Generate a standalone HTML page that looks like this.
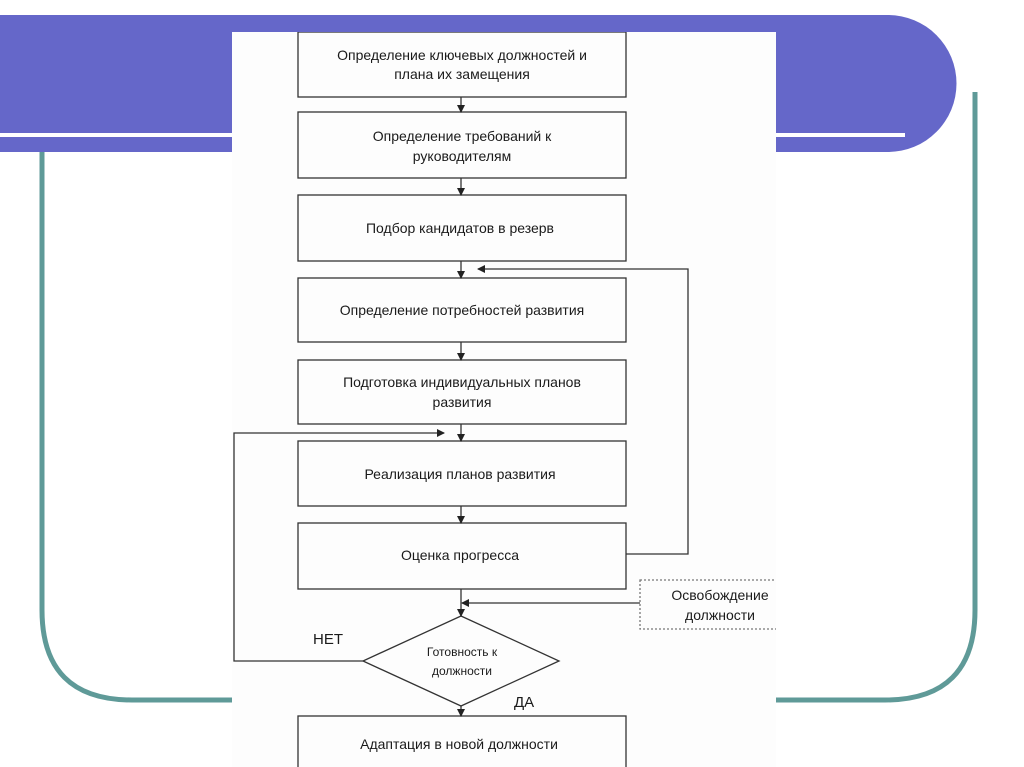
<!DOCTYPE html>
<html><head><meta charset="utf-8"><style>
html,body{margin:0;padding:0;background:#fff;}
svg{display:block;}
text{font-family:"Liberation Sans","DejaVu Sans",sans-serif;fill:#1a1a1a;}
</style></head><body>
<svg width="1024" height="767" viewBox="0 0 1024 767" xmlns="http://www.w3.org/2000/svg">
<defs>
<marker id="a" markerWidth="8" markerHeight="8" refX="7" refY="4" orient="auto" markerUnits="userSpaceOnUse">
<path d="M0,0 L8,4 L0,8 z" fill="#222"/></marker>
<clipPath id="c"><rect x="232" y="32" width="544" height="735"/></clipPath>
</defs>
<rect width="1024" height="767" fill="#fff"/>
<path d="M42,150 L42,610 Q42,700 132,700 L885,700 Q975,700 975,610 L975,92" fill="none" stroke="#5f9a98" stroke-width="5"/>
<path d="M0,15 L888,15 A68,68 0 0 1 888,152 L0,152 Z" fill="#6567c9"/>
<rect x="0" y="133" width="905" height="4" fill="#fff"/>
<rect x="232" y="32" width="544" height="735" fill="#fdfdfd"/>
<g clip-path="url(#c)">
<g fill="none" stroke="#333" stroke-width="1.3">
<rect x="298" y="32" width="328" height="65"/>
<rect x="298" y="112" width="328" height="66"/>
<rect x="298" y="195" width="328" height="66"/>
<rect x="298" y="278" width="328" height="64"/>
<rect x="298" y="360" width="328" height="64"/>
<rect x="298" y="441" width="328" height="65"/>
<rect x="298" y="523" width="328" height="66"/>
<rect x="298" y="716" width="328" height="60"/>
<rect x="640" y="580" width="150" height="49" stroke-dasharray="2,2" stroke="#777"/>
<polygon points="461,616 559,661 461,706 363,661"/>
<line x1="461" y1="97" x2="461" y2="112" marker-end="url(#a)"/>
<line x1="461" y1="178" x2="461" y2="195" marker-end="url(#a)"/>
<line x1="461" y1="261" x2="461" y2="278" marker-end="url(#a)"/>
<line x1="461" y1="342" x2="461" y2="360" marker-end="url(#a)"/>
<line x1="461" y1="424" x2="461" y2="441" marker-end="url(#a)"/>
<line x1="461" y1="506" x2="461" y2="523" marker-end="url(#a)"/>
<line x1="461" y1="589" x2="461" y2="616" marker-end="url(#a)"/>
<line x1="461" y1="706" x2="461" y2="716" marker-end="url(#a)"/>
<line x1="640" y1="603" x2="462" y2="603" marker-end="url(#a)"/>
<polyline points="626,554 688,554 688,269 478,269" marker-end="url(#a)"/>
<polyline points="363,661 234,661 234,433 444,433" marker-end="url(#a)"/>
</g>
<g font-size="14" text-anchor="middle">
<text x="462" y="60">Определение ключевых должностей  и</text>
<text x="462" y="79">плана их замещения</text>
<text x="462" y="141">Определение требований  к</text>
<text x="462" y="161">руководителям</text>
<text x="460" y="233">Подбор кандидатов в резерв</text>
<text x="462" y="315">Определение потребностей развития</text>
<text x="462" y="387">Подготовка индивидуальных планов</text>
<text x="462" y="407">развития</text>
<text x="460" y="479">Реализация планов развития</text>
<text x="460" y="560">Оценка прогресса</text>
<text x="459" y="749">Адаптация в новой должности</text>
<text x="720" y="600">Освобождение</text>
<text x="720" y="620">должности</text>
</g>
</g>
<g font-size="12" text-anchor="middle">
<text x="462" y="656">Готовность  к</text>
<text x="462" y="675">должности</text>
</g>
<text x="313" y="644" font-size="15">НЕТ</text>
<text x="514" y="707" font-size="15">ДА</text>
</svg>
</body></html>
